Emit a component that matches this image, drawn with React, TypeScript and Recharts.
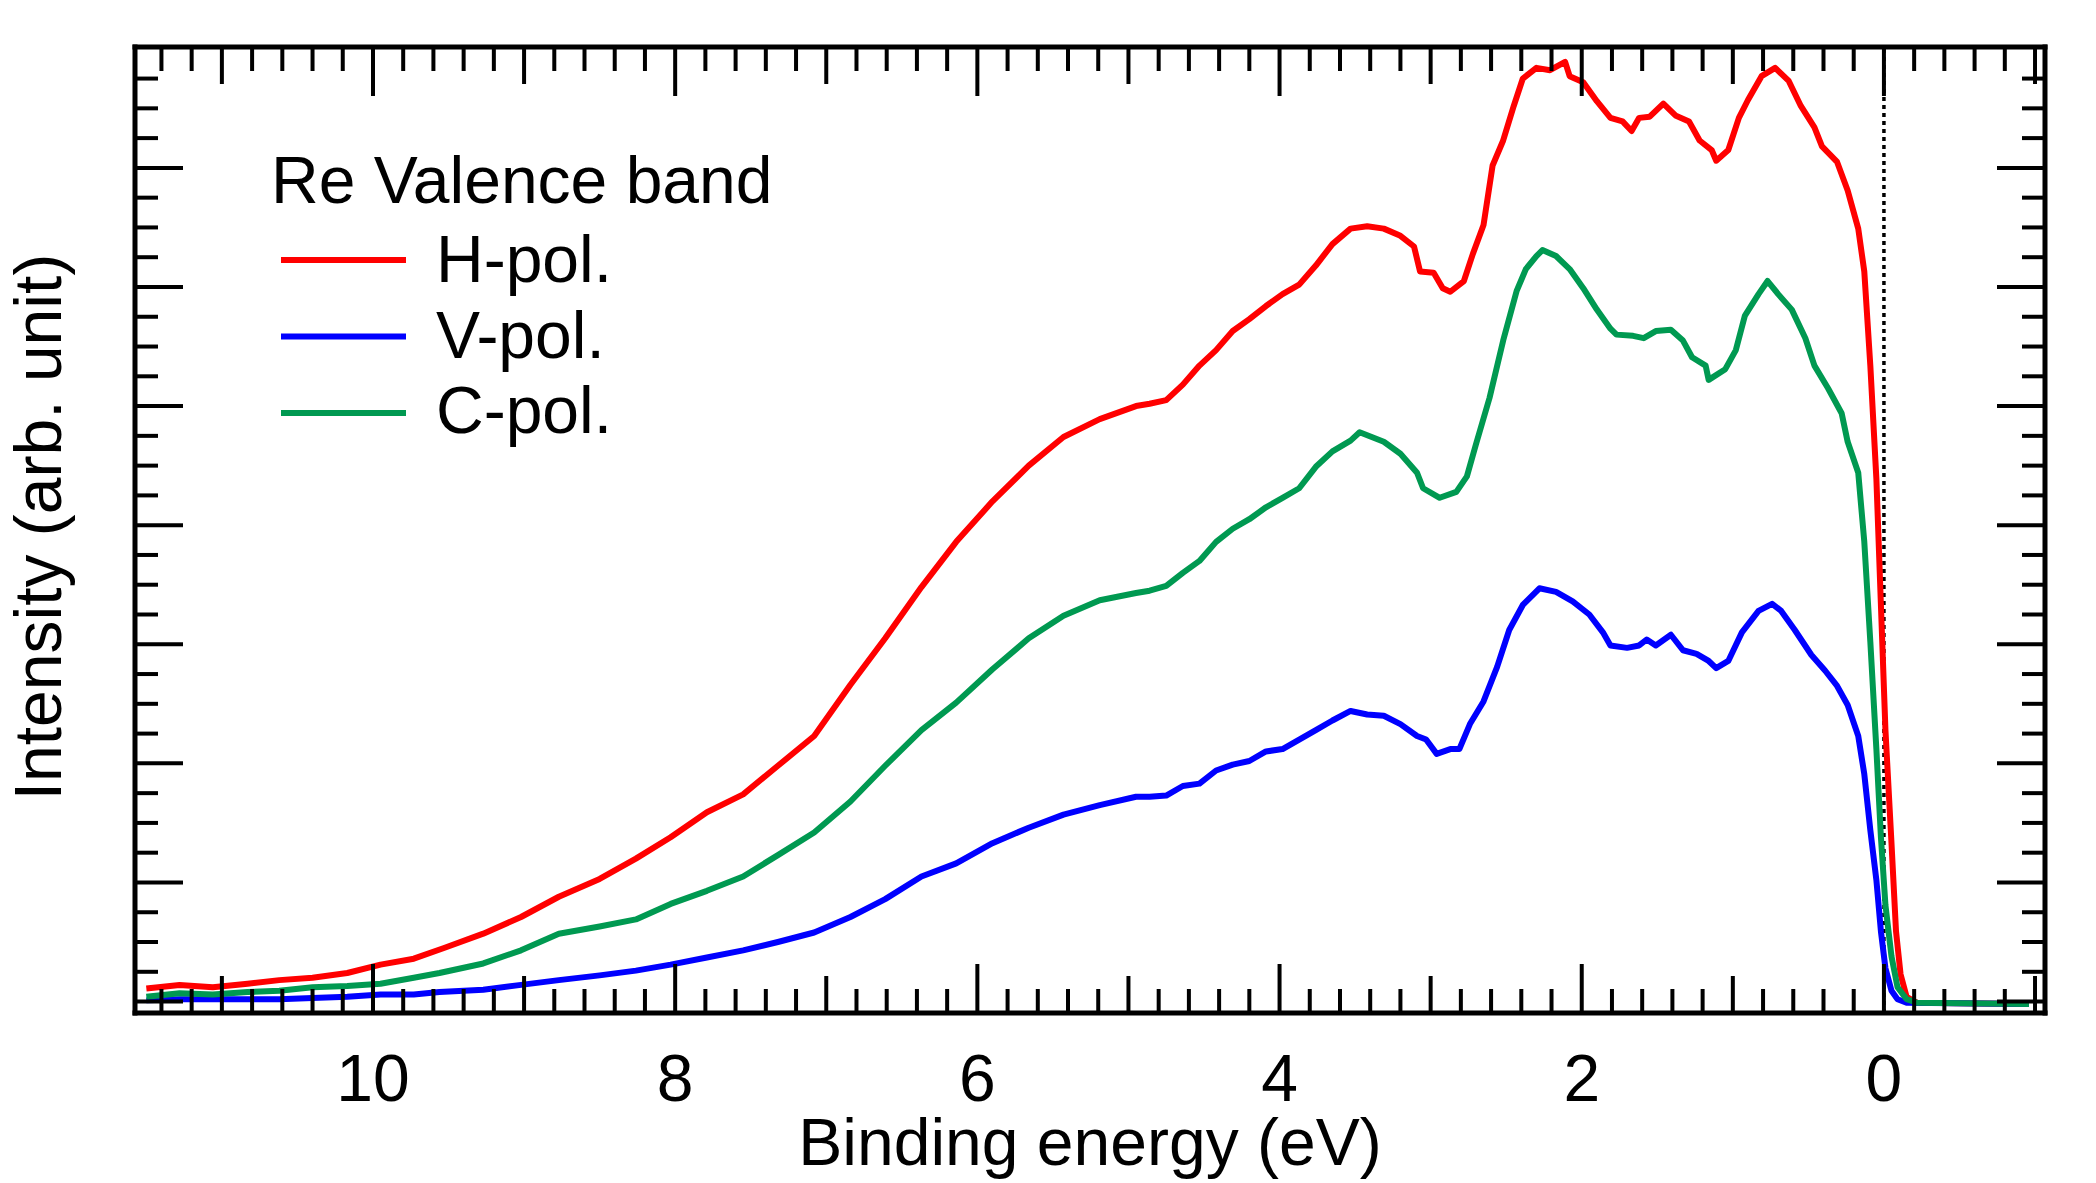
import { LineChart, Line, XAxis, YAxis, ReferenceLine, Legend } from "recharts";

// binding energy (eV) and intensity (arb. unit)
const hEnergy = [
  11.5, 11.28, 11.06, 10.83, 10.62, 10.4, 10.17, 9.95, 9.73, 9.53, 9.27, 9.02, 8.77, 8.5, 8.26, 8.03,
  7.79, 7.55, 7.32, 7.08, 6.84, 6.61, 6.37, 6.14, 5.9, 5.66, 5.43, 5.19, 4.95, 4.86, 4.75, 4.64, 4.53,
  4.42, 4.31, 4.2, 4.09, 3.98, 3.87, 3.76, 3.65, 3.53, 3.42, 3.31, 3.2, 3.11, 3.07, 2.98, 2.92, 2.87,
  2.78, 2.72, 2.65, 2.59, 2.52, 2.45, 2.39, 2.3, 2.21, 2.11, 2.08, 1.99, 1.9, 1.81, 1.73, 1.67, 1.62,
  1.55, 1.46, 1.38, 1.29, 1.22, 1.14, 1.11, 1.03, 0.96, 0.9, 0.81, 0.72, 0.63, 0.55, 0.46, 0.41, 0.31,
  0.24, 0.17, 0.13, 0.09, 0.05, 0.02, -0.01, -0.05, -0.08, -0.11, -0.15, -0.22, -0.96,
];
const hIntensity = [
  0.11, 0.14, 0.12, 0.15, 0.18, 0.2, 0.24, 0.31, 0.36, 0.45, 0.57, 0.71, 0.88, 1.03, 1.2, 1.38,
  1.59, 1.74, 1.98, 2.23, 2.66, 3.05, 3.48, 3.86, 4.2, 4.5, 4.74, 4.89, 5.0, 5.02, 5.05, 5.18, 5.34,
  5.47, 5.63, 5.73, 5.84, 5.94, 6.02, 6.18, 6.36, 6.49, 6.51, 6.49, 6.43, 6.34, 6.13, 6.12, 5.99, 5.96,
  6.05, 6.28, 6.52, 7.02, 7.23, 7.52, 7.75, 7.84, 7.82, 7.89, 7.77, 7.72, 7.56, 7.42, 7.39, 7.31, 7.42,
  7.43, 7.54, 7.44, 7.39, 7.23, 7.15, 7.06, 7.15, 7.42, 7.57, 7.77, 7.84, 7.73, 7.52, 7.34, 7.18, 7.05,
  6.81, 6.49, 6.13, 5.34, 4.39, 3.33, 2.28, 1.33, 0.59, 0.23, 0.04, -0.01, -0.02,
];

const vEnergy = [
  11.5, 11.28, 11.06, 10.83, 10.62, 10.4, 10.17, 9.95, 9.73, 9.56, 9.27, 9.02, 8.77, 8.5, 8.26, 8.03,
  7.79, 7.55, 7.32, 7.08, 6.84, 6.61, 6.37, 6.14, 5.9, 5.66, 5.43, 5.19, 4.95, 4.86, 4.75, 4.64, 4.53,
  4.42, 4.31, 4.2, 4.09, 3.98, 3.87, 3.76, 3.65, 3.53, 3.42, 3.31, 3.2, 3.09, 3.03, 2.96, 2.87, 2.81,
  2.74, 2.65, 2.56, 2.48, 2.39, 2.28, 2.17, 2.06, 1.95, 1.86, 1.81, 1.7, 1.62, 1.57, 1.51, 1.41, 1.33,
  1.24, 1.16, 1.11, 1.03, 0.94, 0.83, 0.74, 0.68, 0.59, 0.48, 0.39, 0.31, 0.24, 0.17, 0.13, 0.09, 0.05,
  0.02, -0.01, -0.05, -0.09, -0.15, -0.96,
];
const vIntensity = [
  0.01, 0.02, 0.02, 0.02, 0.02, 0.03, 0.04, 0.06, 0.06, 0.08, 0.1, 0.14, 0.18, 0.22, 0.26, 0.31,
  0.37, 0.43, 0.5, 0.58, 0.71, 0.86, 1.05, 1.16, 1.33, 1.46, 1.57, 1.65, 1.72, 1.72, 1.73, 1.81, 1.83,
  1.94, 1.99, 2.02, 2.1, 2.12, 2.2, 2.28, 2.36, 2.44, 2.41, 2.4, 2.33, 2.23, 2.2, 2.08, 2.12, 2.12,
  2.33, 2.52, 2.81, 3.12, 3.33, 3.47, 3.44, 3.36, 3.25, 3.1, 2.99, 2.97, 2.99, 3.04, 2.99, 3.08, 2.95,
  2.92, 2.86, 2.8, 2.86, 3.1, 3.28, 3.34, 3.28, 3.12, 2.91, 2.78, 2.65, 2.49, 2.23, 1.91, 1.44, 1.02,
  0.59, 0.28, 0.09, 0.02, -0.01, -0.02,
];

const cEnergy = [
  11.5, 11.28, 11.06, 10.83, 10.62, 10.4, 10.17, 9.95, 9.73, 9.56, 9.27, 9.02, 8.77, 8.5, 8.26, 8.03,
  7.79, 7.55, 7.32, 7.08, 6.84, 6.61, 6.37, 6.14, 5.9, 5.66, 5.43, 5.19, 4.95, 4.86, 4.75, 4.64, 4.53,
  4.42, 4.31, 4.2, 4.09, 3.98, 3.87, 3.76, 3.65, 3.53, 3.47, 3.31, 3.2, 3.09, 3.05, 2.94, 2.83, 2.76,
  2.7, 2.61, 2.52, 2.43, 2.37, 2.3, 2.26, 2.17, 2.08, 1.99, 1.9, 1.81, 1.77, 1.66, 1.59, 1.51, 1.41,
  1.33, 1.27, 1.18, 1.16, 1.05, 0.98, 0.92, 0.83, 0.77, 0.7, 0.61, 0.52, 0.46, 0.37, 0.28, 0.24, 0.17,
  0.13, 0.09, 0.05, 0.02, -0.01, -0.05, -0.09, -0.15, -0.22, -0.96,
];
const cIntensity = [
  0.04, 0.07, 0.06, 0.08, 0.09, 0.12, 0.13, 0.15, 0.2, 0.24, 0.32, 0.43, 0.57, 0.63, 0.69, 0.82,
  0.93, 1.05, 1.23, 1.42, 1.68, 1.98, 2.28, 2.51, 2.79, 3.05, 3.24, 3.37, 3.43, 3.45, 3.49, 3.6, 3.7,
  3.86, 3.97, 4.05, 4.15, 4.23, 4.31, 4.49, 4.62, 4.71, 4.78, 4.7, 4.6, 4.44, 4.31, 4.23, 4.28, 4.41,
  4.68, 5.07, 5.55, 5.97, 6.15, 6.26, 6.31, 6.26, 6.15, 5.99, 5.81, 5.65, 5.6, 5.59, 5.57, 5.63, 5.64,
  5.55, 5.41, 5.34, 5.22, 5.31, 5.47, 5.76, 5.94, 6.05, 5.94, 5.81, 5.57, 5.34, 5.15, 4.94, 4.7, 4.44,
  3.86, 3.02, 2.12, 1.38, 0.81, 0.38, 0.12, 0.02, -0.01, -0.02,
];

const xLabelValues = [10, 8, 6, 4, 2, 0];
const xDomain = [-1.066, 11.575];
const yDomain = [-0.096, 8.015];

const toPoints = (energy: number[], intensity: number[]) =>
  energy.map((e, i) => ({ energy: e, intensity: intensity[i] }));

const series = [
  { name: "H-pol.", color: "#ff0000", data: toPoints(hEnergy, hIntensity) },
  { name: "V-pol.", color: "#0000ff", data: toPoints(vEnergy, vIntensity) },
  { name: "C-pol.", color: "#009951", data: toPoints(cEnergy, cIntensity) },
];

// minor ticks every 0.2 eV, every 0.25 arb. unit
const xTicks = Array.from({ length: 63 }, (_, i) => Math.round((-1 + i * 0.2) * 10) / 10);
const yTicks = Array.from({ length: 32 }, (_, i) => i * 0.25);

const FONT = '"Liberation Sans", Arial, Helvetica, sans-serif';
const frame = { stroke: "#000", strokeWidth: 5, strokeLinecap: "square" as const };

const xTickLength = (v: number) => {
  const k = Math.round(v * 5);
  if (k % 10 === 0) return 49;
  if (k % 5 === 0) return 37;
  return 24;
};
const yTickLength = (v: number) => (Math.round(v * 4) % 4 === 0 ? 48 : 23);

const BottomTick = ({ x, y, payload }: any) => (
  <g>
    <line x1={x} y1={y} x2={x} y2={y - xTickLength(payload.value)} stroke="#000" strokeWidth={4} />
    {xLabelValues.includes(payload.value) && (
      <text x={x} y={y + 88} textAnchor="middle" fontSize={66} fontFamily={FONT} fill="#000">
        {payload.value}
      </text>
    )}
  </g>
);
const TopTick = ({ x, y, payload }: any) => (
  <line x1={x} y1={y} x2={x} y2={y + xTickLength(payload.value)} stroke="#000" strokeWidth={4} />
);
const LeftTick = ({ x, y, payload }: any) => (
  <line x1={x} y1={y} x2={x + yTickLength(payload.value)} y2={y} stroke="#000" strokeWidth={4} />
);
const RightTick = ({ x, y, payload }: any) => (
  <line x1={x} y1={y} x2={x - yTickLength(payload.value)} y2={y} stroke="#000" strokeWidth={4} />
);

const LegendBox = () => (
  <svg width={560} height={320}>
    <text x={11} y={63} fontSize={66} fontFamily={FONT} fill="#000">
      Re Valence band
    </text>
    {series.map((s, i) => (
      <g key={s.name}>
        <line x1={21} x2={146} y1={120 + 76.5 * i} y2={120 + 76.5 * i} stroke={s.color} strokeWidth={6} />
        <text x={176} y={142 + 75.5 * i} fontSize={66} fontFamily={FONT} fill="#000">
          {s.name}
        </text>
      </g>
    ))}
  </svg>
);

export default function App() {
  return (
    <div style={{ position: "absolute", left: 0, top: 0, width: 2096, height: 1183, background: "#fff" }}>
      <LineChart width={2096} height={1183} margin={{ top: 46, right: 50, bottom: 169, left: 134 }}>
        <XAxis
          xAxisId="b"
          dataKey="energy"
          type="number"
          domain={xDomain}
          allowDataOverflow
          reversed
          orientation="bottom"
          ticks={xTicks}
          interval={0}
          height={1}
          tickSize={0}
          tickMargin={0}
          tickLine={false}
          axisLine={frame}
          tick={BottomTick}
          label={({ viewBox }: any) => (
            <text
              x={viewBox.x + viewBox.width / 2}
              y={viewBox.y + 152}
              textAnchor="middle"
              fontSize={66}
              fontFamily={FONT}
              fill="#000"
            >
              Binding energy (eV)
            </text>
          )}
        />
        <XAxis
          xAxisId="t"
          dataKey="energy"
          type="number"
          domain={xDomain}
          allowDataOverflow
          reversed
          orientation="top"
          ticks={xTicks}
          interval={0}
          height={1}
          tickSize={0}
          tickMargin={0}
          tickLine={false}
          axisLine={frame}
          tick={TopTick}
        />
        <YAxis
          yAxisId="l"
          type="number"
          domain={yDomain}
          allowDataOverflow
          orientation="left"
          ticks={yTicks}
          interval={0}
          width={1}
          tickSize={0}
          tickMargin={0}
          tickLine={false}
          axisLine={frame}
          tick={LeftTick}
          label={({ viewBox }: any) => {
            const cx = viewBox.x - 73;
            const cy = viewBox.y + viewBox.height / 2 - 3;
            return (
              <text
                x={cx}
                y={cy}
                transform={`rotate(-90, ${cx}, ${cy})`}
                textAnchor="middle"
                fontSize={66}
                fontFamily={FONT}
                fill="#000"
              >
                Intensity (arb. unit)
              </text>
            );
          }}
        />
        <YAxis
          yAxisId="r"
          type="number"
          domain={yDomain}
          allowDataOverflow
          orientation="right"
          ticks={yTicks}
          interval={0}
          width={1}
          tickSize={0}
          tickMargin={0}
          tickLine={false}
          axisLine={frame}
          tick={RightTick}
        />
        <ReferenceLine
          xAxisId="b"
          yAxisId="l"
          x={0}
          stroke="#000"
          strokeWidth={3.5}
          strokeDasharray="4 4"
        />
        {series.map((s) => (
          <Line
            key={s.name}
            xAxisId="b"
            yAxisId="l"
            data={s.data}
            dataKey="intensity"
            name={s.name}
            type="linear"
            stroke={s.color}
            strokeWidth={6}
            strokeLinejoin="round"
            dot={false}
            activeDot={false}
            isAnimationActive={false}
          />
        ))}
        <Legend
          layout="vertical"
          align="center"
          verticalAlign="middle"
          content={LegendBox}
          wrapperStyle={{ left: 260, top: 140, width: 560, height: 320 }}
        />
      </LineChart>
    </div>
  );
}
